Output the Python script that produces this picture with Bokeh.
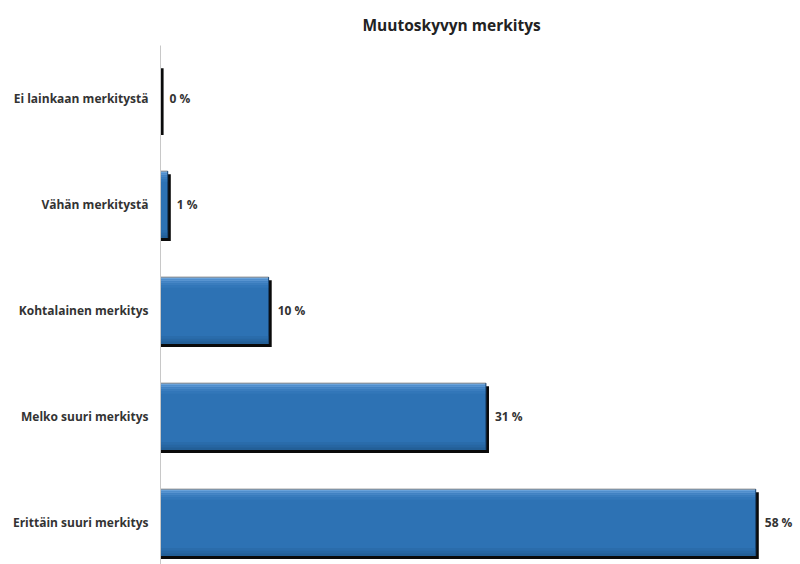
from bokeh.plotting import figure
from bokeh.models import Range1d, FixedTicker, Title, ColumnDataSource, LabelSet
from bokeh.core.properties import value
from bokeh.embed import file_html
from bokeh.resources import INLINE

# ---- data ----
categories = ["Ei lainkaan merkitystä", "Vähän merkitystä", "Kohtalainen merkitys",
              "Melko suuri merkitys", "Erittäin suuri merkitys"]
values = [0.0, 0.7, 10.5, 31.6, 57.8]
value_labels = ["0 %", "1 %", "10 %", "31 %", "58 %"]
title_text = "Muutoskyvyn merkitys"

FONT = "Open Sans"
pos = [i + 0.5 for i in range(len(categories))]
half = 0.315

p = figure(width=800, height=564, output_backend="svg", toolbar_location=None,
           x_range=Range1d(0, 62.15), y_range=Range1d(4.896, 0),
           min_border_left=160, min_border_right=0, min_border_top=45, min_border_bottom=0)
p.title = Title(text=title_text, align="left", offset=202, text_font=FONT,
                text_font_size="15.5px", text_font_style="bold", text_color="#222222",
                standoff=19, text_line_height=0.5)
p.xaxis.visible = False
p.xgrid.visible = False
p.ygrid.visible = False
p.outline_line_color = None

ya = p.yaxis[0]
ya.ticker = FixedTicker(ticks=pos)
ya.major_label_overrides = {pv: c for pv, c in zip(pos, categories)}
ya.major_tick_line_color = None
ya.minor_tick_line_color = None
ya.axis_line_color = "#c8c8c8"
ya.axis_line_width = 1
ya.major_label_text_font = FONT
ya.major_label_text_font_size = "12px"
ya.major_label_text_font_style = "bold"
ya.major_label_text_color = "#333333"
ya.major_label_standoff = 6

src = ColumnDataSource(dict(
    y=pos, v=values, lab=value_labels,
    top=[y - half for y in pos], bottom=[y + half for y in pos],
    s_top=[y - half + 0.03 for y in pos], s_bottom=[y + half + 0.03 for y in pos],
    s_right=[v + 0.3 for v in values],
))

# shadow
p.quad(left=0.05, right="s_right", top="s_top", bottom="s_bottom", source=src,
       fill_color="#0a0a0a", line_color=None)
# main bar
p.quad(left=0.05, right="v", top="top", bottom="bottom", source=src,
       fill_color="#2d72b4", line_color=None)
# gradient bands near top (lighter) and bottom (darker)
top_cols = ["#6aa3db", "#5894d0", "#4686c6", "#3a7dbe", "#3277b9"]
for k, col in enumerate(top_cols):
    t = [y - half + k * 0.02 for y in pos]
    b = [y - half + (k + 1) * 0.02 for y in pos]
    p.quad(left=0.05, right=values, top=t, bottom=b, fill_color=col, line_color=None)
bot_cols = ["#2a6cab", "#2766a2", "#235f97"]
for k, col in enumerate(bot_cols):
    t = [y + half - (3 - k) * 0.025 for y in pos]
    b = [y + half - (2 - k) * 0.025 for y in pos]
    p.quad(left=0.05, right=values, top=t, bottom=b, fill_color=col, line_color=None)
# top edge line and right dark edge
p.segment(x0=0.05, x1="v", y0="top", y1="top", source=src, line_color="#8f8f8f", line_width=1)
p.segment(x0="v", x1="v", y0="top", y1="bottom", source=src, line_color="#1a4470", line_width=1)

# value labels
labels = LabelSet(x="s_right", y="y", text="lab", source=src, x_offset=6,
                  text_font=value(FONT), text_font_size=value("12px"),
                  text_font_style=value("bold"),
                  text_color=value("#333333"), text_baseline=value("middle"),
                  text_align=value("left"))
p.add_layout(labels)

open("out.html", "w").write(file_html(p, INLINE))
